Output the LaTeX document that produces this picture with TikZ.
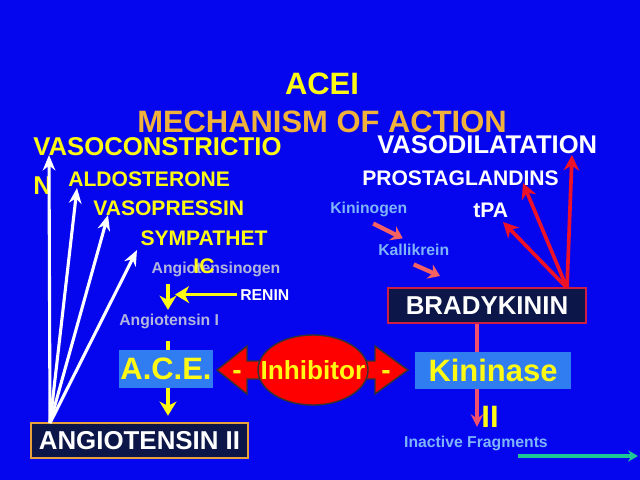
\documentclass[tikz,border=0pt]{standalone}
\usepackage{fontspec}
\setmainfont{Liberation Sans}
\usetikzlibrary{positioning, calc, shapes.geometric, arrows.meta}
\definecolor{slide}{RGB}{6,6,238}
\definecolor{yel}{RGB}{255,250,20}
\definecolor{mech}{RGB}{240,178,58}
\definecolor{grey}{RGB}{178,182,222}
\definecolor{lblue}{RGB}{125,180,250}
\definecolor{navy}{RGB}{12,22,72}
\definecolor{gold}{RGB}{232,160,60}
\definecolor{crim}{RGB}{205,30,70}
\definecolor{aceblue}{RGB}{48,125,242}
\definecolor{rred}{RGB}{238,18,40}
\definecolor{pink}{RGB}{240,80,112}
\definecolor{salmon}{RGB}{246,98,98}
\definecolor{teal}{RGB}{30,200,150}
\tikzset{
	txt/.style={inner sep=0pt},
	title/.style={txt, font=\fontsize{22}{26}\selectfont\bfseries},
	effect/.style={txt, font=\fontsize{18.3}{27.6}\selectfont\bfseries},
	agent/.style={txt, font=\fontsize{15}{20.5}\selectfont\bfseries},
	chain/.style={txt, font=\fontsize{11.2}{13}\selectfont\bfseries},
	enzyme/.style={txt, font=\fontsize{22}{30}\selectfont\bfseries},
	darkbox/.style={
		draw,
		line width=1.4pt,
		fill=navy,
		text=white,
		inner sep=0pt,
		minimum height=0.875cm,
		font=\fontsize{18.4}{22}\selectfont\bfseries
	},
	bluebox/.style={enzyme, fill=aceblue, text=yel},
	whitearrow/.style={white, line width=2.2pt, -{Stealth[length=11pt, width=9pt]}},
	yarrow/.style={yel, line width=2.5pt, -{Stealth[length=10pt, width=12pt, inset=3pt]}},
	rarrow/.style={rred, line width=2.6pt, -{Stealth[length=11pt, width=11pt]}},
	sarrow/.style={salmon, line width=3pt, -{Stealth[length=8pt, width=11pt]}},
	parrow/.style={pink, line width=2.4pt, -{Stealth[length=9pt, width=9pt]}}
}

\begin{document}
\begin{tikzpicture}[x=0.025cm, y=-0.025cm]
	\fill[slide] (0,0) rectangle (640,480);

	% title
	\node[title, text=yel, anchor=base] (acei) at (322,95) {ACEI};
	\node[title, text=mech, anchor=base] (mech) at (322,132) {MECHANISM OF ACTION};

	% angiotensin side
	\node[effect, text=yel, anchor=north west, align=left] (vasoc) at (33,137) {VASOCONSTRICTIO\\N};
	\node[agent, text=yel, anchor=base west] (aldo) at (68,186) {ALDOSTERONE};
	\node[agent, text=yel, anchor=base west] (vasop) at (93,215) {VASOPRESSIN};
	\node[chain, text=grey, anchor=base] (agen) at (216,273) {Angiotensinogen};
	\node[agent, text=yel, anchor=north, align=center] (symp) at (204,230) {SYMPATHET\\IC};
	\node[chain, text=white, anchor=base west] (renin) at (240,300) {RENIN};
	\node[chain, text=grey, anchor=base west] (ang1) at (119,325) {Angiotensin I};
	\node[darkbox, draw=gold, minimum width=5.425cm] (ang2) at (139.5,440.5) {ANGIOTENSIN II};

	% kinin side
	\node[effect, font=\fontsize{18.2}{22}\selectfont\bfseries, text=white, anchor=base west] (vdil) at (377,153) {VASODILATATION};
	\node[agent, text=white, anchor=base west] (prost) at (362,185) {PROSTAGLANDINS};
	\node[agent, text=white, anchor=base west] (tpa) at (473,217) {tPA};
	\node[chain, text=lblue, anchor=base west] (kgen) at (330,213) {Kininogen};
	\node[chain, text=lblue, anchor=base west] (kal) at (378,255) {Kallikrein};
	\node[darkbox, draw=crim, minimum width=4.95cm] (brady) at (487,305.5) {BRADYKININ};
	\node[chain, text=lblue, anchor=base] (frag) at (476,447) {Inactive Fragments};

	% angiotensin II effects
	\coordinate (root) at (50,423);
	\coordinate (tipvc) at (49,155);
	\coordinate (tipald) at (77,188);
	\coordinate (tipvp) at (108,215);
	\coordinate (tipsym) at (137,250);
	\foreach \t in {vc,ald,vp,sym} {
		\draw[whitearrow] (root) -- (tip\t);
	}

	% yellow cascade
	\coordinate (yaxis) at (168,0);
	\draw[yarrow, shorten <=5pt, shorten >=2.5pt] (yaxis |- agen.south) -- (yaxis |- ang1.north);
	\draw[yarrow, shorten <=2pt] (renin.west) -- ([xshift=0.175cm]yaxis |- renin.west);
	\draw[yarrow, shorten <=9pt, shorten >=4.5pt] (yaxis |- ang1.south) -- (yaxis |- ang2.north);

	% bradykinin breakdown
	\draw[parrow, shorten >=6pt] ([xshift=-0.25cm]brady.south) -- ([xshift=-0.25cm]brady.south |- frag.north);

	% bradykinin effects
	\coordinate (bkroot) at (567,288);
	\coordinate (tiptpa) at (503,222);
	\coordinate (tippr) at (523,183);
	\coordinate (tipvd) at (572,155);
	\foreach \t in {tpa,pr,vd} {
		\draw[rarrow] (bkroot) -- (tip\t);
	}
	\draw[sarrow] ([shift={(4.5,7)}]kgen.south) -- ([shift={(-11,-5)}]kal.north);
	\draw[sarrow] ([shift={(0,9)}]kal.south) -- ([shift={(-47,-11)}]brady.north);

	% enzymes
	\node[bluebox, minimum width=2.35cm, minimum height=0.95cm] (ace) at (166,369) {A.C.E.};
	\node[bluebox, minimum width=3.9cm, minimum height=0.925cm] (kin) at (493,370.5) {Kininase};
	\node[enzyme, text=yel, anchor=base] (kin2) at (490,427) {II};

	% inhibitor
	\coordinate (inhc) at (313,370);
	\begin{scope}[shift={(inhc)}]
	\draw[fill=red, draw=black!80, line width=1pt] (-96,0) -- (-66,-24) -- (-66,-9) -- (62,-9) -- (62,-24) -- (95,0) -- (62,24) -- (62,9) -- (-66,9) -- (-66,24) -- cycle;
	\end{scope}
	\node[ellipse, fill=red, draw=black!80, line width=1pt, minimum width=2.75cm, minimum height=1.75cm, inner sep=0pt, text=yel, font=\fontsize{18.6}{22}\selectfont\bfseries] (inh) at (inhc) {\makebox[0pt]{Inhibitor}};
	\node[txt, text=yel, font=\fontsize{20}{22}\selectfont\bfseries] (minl) at (237,375) {-};
	\node[txt, text=yel, font=\fontsize{20}{22}\selectfont\bfseries] (minr) at (386,375) {-};

	% slide navigation
	\coordinate (navA) at (518,456);
	\coordinate (navB) at (638,456);
	\draw[teal, line width=2.8pt, -{Stealth[length=7pt, width=8pt]}] (navA) -- (navB);
\end{tikzpicture}
\end{document}
